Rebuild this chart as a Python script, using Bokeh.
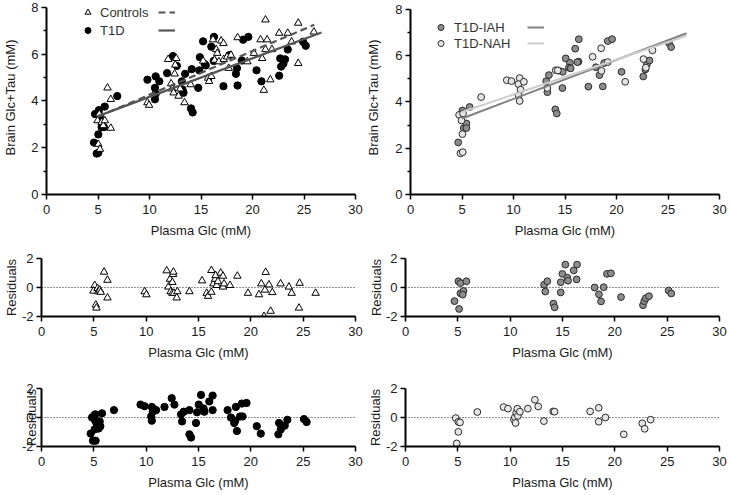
from bokeh.plotting import figure
from bokeh.models import Range1d, FixedTicker, Legend, LegendItem, Span
from bokeh.layouts import column, row
from bokeh.embed import file_html
from bokeh.resources import INLINE

# ---------------- data ----------------
x_ticks = [0, 5, 10, 15, 20, 25, 30]
top_y_ticks = [0, 2, 4, 6, 8]
top_y_minor = [1, 3, 5, 7]
res_y_ticks = [-2, 0, 2]

# Top-left: Controls
ctrl_x = [4.96, 5.35, 5.51, 5.66, 5.03, 5.19, 5.92, 6.24, 6.24, 5.12, 9.8, 9.96, 11.81, 12.1, 12.2, 12.34,
          12.44, 12.5, 12.6, 12.82, 12.98, 13.4, 13.99, 15.21, 15.69, 15.78, 16.0, 16.16, 16.32, 16.48, 16.58,
          16.74, 16.96, 17.18, 17.21, 17.53, 17.69, 17.91, 18.55, 19.5, 20.14, 20.78, 20.94, 21.1, 21.26, 21.42,
          21.26, 21.73, 21.89, 22.59, 23.42, 23.8, 24.44, 24.44, 25.96]
ctrl_y = [3.16, 3.09, 2.95, 3.16, 2.15, 1.94, 4.56, 4.07, 2.84, 3.44, 3.93, 3.82, 5.78, 4.74, 4.52, 4.35,
          5.16, 5.54, 5.82, 4.21, 4.52, 3.93, 4.70, 5.71, 4.98, 4.84, 5.05, 6.62, 5.75, 6.20, 6.04,
          5.68, 6.57, 6.46, 5.78, 5.89, 5.40, 5.96, 6.71, 5.68, 6.04, 6.62, 5.82, 4.46, 7.47, 6.62,
          6.20, 4.91, 6.20, 6.90, 6.90, 6.53, 5.61, 7.33, 6.95]

# Top-left: T1D
t1d_x = [4.61, 4.87, 5.03, 5.03, 4.71, 5.09, 5.19, 5.35, 5.57, 5.66, 6.87, 9.8, 10.6, 10.53, 10.95, 10.53,
         10.6, 11.71, 12.28, 12.66, 13.14, 13.2, 13.3, 13.46, 14.1, 14.03, 14.19, 14.73, 14.83, 14.89, 15.2,
         15.37, 15.46, 16.0, 16.26, 16.23, 17.18, 17.75, 18.39, 18.49, 18.55, 18.96, 19.09, 19.6, 20.39,
         20.87, 22.59, 22.69, 22.78, 23.0, 23.16, 23.42, 24.91, 25.17]
t1d_y = [2.22, 1.75, 1.78, 2.57, 3.44, 3.61, 3.37, 2.88, 2.88, 3.76, 4.21, 4.91, 5.05, 4.56, 4.84, 4.07,
         4.31, 5.19, 5.92, 5.5, 4.84, 4.49, 4.35, 5.16, 5.36, 3.68, 3.51, 4.56, 5.31, 5.87, 6.55,
         5.57, 5.52, 6.32, 6.74, 5.71, 4.63, 5.96, 5.16, 5.40, 4.66, 5.73, 6.62, 6.74, 5.31,
         4.84, 5.08, 5.82, 5.47, 5.59, 5.78, 6.20, 6.53, 6.36]

# Top-right: T1D-IAH
iah_x = [4.63, 5.04, 5.17, 5.43, 5.43, 5.74, 13.18, 13.44, 13.29, 14.06, 14.2, 14.38, 14.75, 14.78, 15.07,
         15.48, 15.38, 15.55, 15.99, 16.34, 16.31, 16.2, 17.27, 18.0, 18.35, 18.67, 18.8, 19.15, 19.57,
         20.49, 22.6, 22.8, 22.95, 23.2, 25.1, 25.3]
iah_y = [2.25, 3.63, 2.87, 3.07, 2.87, 3.78, 4.90, 5.16, 4.42, 3.68, 3.50, 5.35, 4.60, 5.30, 5.88,
         5.69, 5.48, 5.45, 6.30, 6.71, 5.74, 5.72, 4.66, 5.50, 5.16, 4.67, 5.68, 6.63, 6.71,
         5.30, 5.10, 5.40, 5.62, 5.79, 6.54, 6.37]

# Top-right: T1D-NAH
nah_x = [4.72, 5.1, 4.95, 5.04, 4.85, 5.07, 6.86, 9.35, 9.80, 10.6, 10.47, 10.69, 10.5, 10.6, 11.01,
         13.28, 14.1, 14.3, 17.68, 18.51, 18.54, 19.15, 20.84, 22.62, 22.85, 23.49]
nah_y = [3.44, 3.5, 3.20, 2.61, 1.78, 1.83, 4.21, 4.94, 4.90, 5.03, 4.77, 4.53, 4.28, 4.04, 4.87,
         4.60, 5.37, 5.36, 5.95, 6.32, 5.34, 5.72, 4.87, 5.85, 5.48, 6.23]

# Regression lines (intercept, slope, x-extent)
ctrl_fit = {"b0": 2.395, "b1": 0.187, "x": [5.0, 26.0]}
t1d_fit = {"b0": 2.525, "b1": 0.165, "x": [5.0, 26.7]}
iah_fit = {"b0": 2.44, "b1": 0.169, "x": [5.0, 26.8]}
nah_fit = {"b0": 2.81, "b1": 0.151, "x": [5.0, 26.8]}

# Residuals: Controls
rc_x = [5.09, 4.96, 5.35, 5.41, 5.57, 5.66, 5.19, 5.25, 5.98, 6.3, 6.3, 9.86, 10.02, 11.96, 12.12, 12.28,
        12.34, 12.5, 12.57, 12.6, 12.5, 12.66, 12.98, 12.92, 14.13, 15.34, 15.78, 15.91, 16.23, 16.23,
        16.42, 16.58, 16.64, 16.74, 16.86, 17.12, 17.34, 17.34, 17.44, 18.01, 18.71, 19.73, 20.78, 21.0,
        21.89, 21.35, 21.42, 21.26, 21.73, 22.05, 22.84, 23.64, 23.9, 24.66, 24.6, 26.19]
rc_y = [0.15, -0.24, -0.06, -0.28, -0.17, -0.32, -1.2, -1.41, 1.07, 0.51, -0.71, -0.28, -0.49, 1.16, 0.04,
        0.58, -0.28, -0.39, 0.9, 1.07, 0.36, -0.39, -0.28, -0.71, -0.28, 0.47, -0.39, -0.6, -0.32, 1.18,
        0.26, 0.58, 0.83, 0.15, 0.41, 1.0, 0.79, 0.04, 0.26, 0.15, 0.79, -0.39, -0.49, 0.26,
        -1.63, -0.17, 1.05, -1.99, 0.19, -0.34, 0.26, 0.04, -0.39, 0.3, -1.41, -0.39]

# Residuals: T1D-IAH
ri_x = [4.68, 5.06, 5.12, 5.25, 5.25, 5.54, 5.47, 5.82, 13.24, 13.36, 13.55, 14.13, 14.25, 14.83, 14.83,
        14.99, 15.27, 15.46, 15.53, 16.07, 16.39, 16.35, 18.07, 18.48, 18.68, 18.93, 19.25, 19.63, 20.59,
        22.69, 22.81, 22.97, 23.26, 25.14, 25.39]
ri_y = [-0.94, 0.43, -1.48, 0.30, -0.40, -0.24, -0.49, 0.43, 0.19, -0.28, 0.43, -1.11, -1.37, 0.36, -0.34,
        0.94, 1.58, 0.68, 0.47, 1.18, 1.58, 0.56, 0.0, -0.47, -0.96, 0.02, 0.94, 0.98, -0.66,
        -1.22, -0.94, -0.73, -0.6, -0.21, -0.41]

# Residuals: T1D
rt_x = [4.7, 4.83, 5.02, 5.08, 5.14, 5.24, 5.08, 4.92, 5.17, 5.4, 5.56, 5.62, 5.46, 5.78, 6.92, 9.46, 9.84,
        10.54, 10.63, 10.48, 10.54, 10.73, 10.95, 11.75, 12.44, 12.7, 13.33, 13.43, 13.59, 14.13, 14.29,
        14.13, 14.76, 14.86, 15.02, 15.24, 15.49, 15.56, 16.03, 16.35, 16.35, 17.78, 18.1, 18.41, 18.51,
        18.57, 18.67, 18.98, 19.21, 19.14, 19.59, 20.57, 20.95, 22.7, 22.63, 22.86, 23.02, 23.24, 23.49,
        25.08, 25.33]
rt_y = [-1.11, 0, 0.13, -0.16, 0.22, -0.38, -0.82, -1.6, -1.6, -0.49, -0.27, -0.6, -0.76, 0.29, 0.51, 0.89,
        0.78, 0.73, 0.4, 0.07, -0.22, 0.58, 0.51, 0.73, 1.33, 0.89, 0.22, -0.27, 0.4, -1.16, -1.38,
        0.51, -0.38, 0.36, 0.89, 1.56, 0.62, 0.4, 1.11, 1.51, 0.51, 0.51, 0, -0.38, -0.22,
        0.73, -0.93, 0.07, 0.07, 0.96, 1.0, -0.6, -1.11, -0.38, -1.16, -0.82, -0.6, -0.56, -0.16,
        -0.11, -0.31]

# Residuals: T1D-NAH
rn_x = [4.80, 5.05, 5.21, 5.05, 4.89, 6.86, 9.37, 9.79, 10.36, 10.45, 10.52, 10.58, 10.68, 10.74, 10.93,
        11.69, 12.36, 12.68, 13.22, 14.11, 14.24, 17.64, 18.46, 18.46, 19.1, 20.85, 22.62, 22.85, 23.42]
rn_y = [-0.04, -0.3, -0.34, -0.99, -1.79, 0.38, 0.72, 0.61, -0.15, 0.02, -0.38, 0.32, 0.61, 0.11, 0.40,
        0.61, 1.22, 0.76, -0.25, 0.42, 0.4, 0.42, 0.67, -0.29, 0.0, -1.16, -0.4, -0.78, -0.15]

# ---------------- styling ----------------
FONT = "Liberation Sans"
TXT = "#1a1a1a"
IAH_FILL = "#8c8c8c"
NAH_FILL = "#e6e6e6"
EDGE = "#2a2a2a"
TRI_SIZE = 7.5
DOT_SIZE = 7.3
GRAY_SIZE = 6.8


def make_fig(height, b_top, fh, b_left, fw, b_right, y_rng, yticks, yminor, ylabel, ylab_standoff,
             y_bounds=None):
    p = figure(width=b_left + fw + b_right, height=height,
               x_range=Range1d(0, 30), y_range=Range1d(*y_rng),
               output_backend="svg", toolbar_location=None, title=None,
               min_border_left=b_left, min_border_right=b_right,
               min_border_top=b_top, min_border_bottom=height - b_top - fh)
    p.outline_line_color = None
    p.xgrid.visible = False
    p.ygrid.visible = False
    p.background_fill_color = "white"
    p.border_fill_color = "white"
    p.xaxis.ticker = FixedTicker(ticks=x_ticks, minor_ticks=[])
    p.yaxis.ticker = FixedTicker(ticks=yticks, minor_ticks=yminor)
    p.yaxis.major_label_overrides = {t: str(t) for t in yticks}
    if y_bounds is not None:
        p.yaxis.bounds = y_bounds
    p.xaxis.axis_label = "Plasma Glc (mM)"
    p.yaxis.axis_label = ylabel
    for ax in (p.xaxis[0], p.yaxis[0]):
        ax.axis_line_width = 2
        ax.axis_line_color = "black"
        ax.major_tick_line_width = 1.5
        ax.major_tick_line_color = "black"
        ax.minor_tick_line_width = 1.5
        ax.minor_tick_line_color = "black"
        ax.major_tick_in = 0
        ax.major_tick_out = 5
        ax.minor_tick_in = 0
        ax.minor_tick_out = 3
        ax.major_label_text_font = FONT
        ax.major_label_text_font_size = "13px"
        ax.major_label_text_color = TXT
        ax.axis_label_text_font = FONT
        ax.axis_label_text_font_size = "13px"
        ax.axis_label_text_font_style = "normal"
        ax.axis_label_text_color = TXT
    p.xaxis.major_label_standoff = 5
    p.xaxis.axis_label_standoff = 6
    p.yaxis.major_label_standoff = 3
    p.yaxis.axis_label_standoff = ylab_standoff
    return p


def zero_line(p):
    p.add_layout(Span(location=0, dimension="width", line_color="#222222",
                      line_width=1, line_dash="1 2", level="underlay"))


def fit_line(p, fit, **kw):
    xs = fit["x"]
    ys = [fit["b0"] + fit["b1"] * v for v in xs]
    return p.line(xs, ys, **kw)


# left column: 41 + 314 + 8 = 363 ; right column: 42 + 314 + 9 = 365  -> 728 total
BLL, BLR, FW, BRL, BRR = 41, 42, 314, 8, 9

# ---- Row 1 ----
# Both top frames reach the top edge (so the in-frame legends are never clipped);
# the y-axis lines stop at 8, which sits at 7 px (left) and 9 px (right) from the top.
TOP_FH = 197
p1 = make_fig(240, 0, TOP_FH, BLL, FW, BRL, (0, 8 * TOP_FH / 190), top_y_ticks, top_y_minor,
              "Brain Glc+Tau (mM)", 10, y_bounds=(0, 8))
r_t1d = p1.scatter(t1d_x, t1d_y, marker="circle", size=DOT_SIZE, fill_color="black", line_color="black")
r_ctrl = p1.scatter(ctrl_x, ctrl_y, marker="triangle", size=TRI_SIZE, fill_color="white",
                    line_color="black", line_width=1)
l_t1d = fit_line(p1, t1d_fit, line_color="#555555", line_width=2.2)
l_ctrl = fit_line(p1, ctrl_fit, line_color="#555555", line_width=2.2, line_dash="7 4")

p2 = make_fig(240, 0, TOP_FH, BLR, FW, BRR, (0, 8 * TOP_FH / 188), top_y_ticks, top_y_minor,
              "Brain Glc+Tau (mM)", 11, y_bounds=(0, 8))
r_iah = p2.scatter(iah_x, iah_y, marker="circle", size=GRAY_SIZE, fill_color=IAH_FILL, line_color=EDGE, line_width=1)
r_nah = p2.scatter(nah_x, nah_y, marker="circle", size=GRAY_SIZE, fill_color=NAH_FILL, line_color=EDGE, line_width=1)
l_iah = fit_line(p2, iah_fit, line_color="#808080", line_width=2)
l_nah = fit_line(p2, nah_fit, line_color="#cccccc", line_width=2)


def add_legends(p, marker_items, line_items, fh, x_mark, x_line, top_offset, ih, standoff):
    leg_h = 2 * ih
    y_bottom = fh - (top_offset + leg_h)
    common = dict(border_line_color=None, background_fill_alpha=0, padding=0, margin=0,
                  label_text_font=FONT, label_text_font_size="13px", label_text_color="#333333",
                  label_height=ih, glyph_height=ih, spacing=0)
    lg1 = Legend(items=[LegendItem(label=t, renderers=[r]) for t, r in marker_items],
                 location=(x_mark, y_bottom), glyph_width=15, label_standoff=standoff, **common)
    lg2 = Legend(items=[LegendItem(label=" ", renderers=[r]) for r in line_items],
                 location=(x_line, y_bottom), glyph_width=17, label_standoff=0, **common)
    p.add_layout(lg1)
    p.add_layout(lg2)


add_legends(p1, [("Controls", r_ctrl), ("T1D", r_t1d)], [l_ctrl, l_t1d], TOP_FH,
            34, 112, 6, 18, 5)
add_legends(p2, [("T1D-IAH", r_iah), ("T1D-NAH", r_nah)], [l_iah, l_nah], TOP_FH,
            23, 117, 22, 16, 6)

# ---- Row 2 ----
p3 = make_fig(122, 18, 63, BLL, FW, BRL, (-2, 2), res_y_ticks, [], "Residuals", 0)
zero_line(p3)
p3.scatter(rc_x, rc_y, marker="triangle", size=TRI_SIZE, fill_color="white", line_color="black", line_width=1)

p4 = make_fig(122, 18, 63, BLR, FW, BRR, (-2, 2), res_y_ticks, [], "Residuals", -1)
zero_line(p4)
p4.scatter(ri_x, ri_y, marker="circle", size=GRAY_SIZE, fill_color=IAH_FILL, line_color=EDGE, line_width=1)

# ---- Row 3 ----
p5 = make_fig(130, 26, 62, BLL, FW, BRL, (-2, 2), res_y_ticks, [], "Residuals", -20)
zero_line(p5)
p5.scatter(rt_x, rt_y, marker="circle", size=DOT_SIZE, fill_color="black", line_color="black")

p6 = make_fig(130, 26, 62, BLR, FW, BRR, (-2, 2), res_y_ticks, [], "Residuals", 0)
zero_line(p6)
p6.scatter(rn_x, rn_y, marker="circle", size=GRAY_SIZE, fill_color=NAH_FILL, line_color=EDGE, line_width=1)

layout = column(row(p1, p2), row(p3, p4), row(p5, p6))

open("out.html", "w").write(file_html(layout, INLINE))
